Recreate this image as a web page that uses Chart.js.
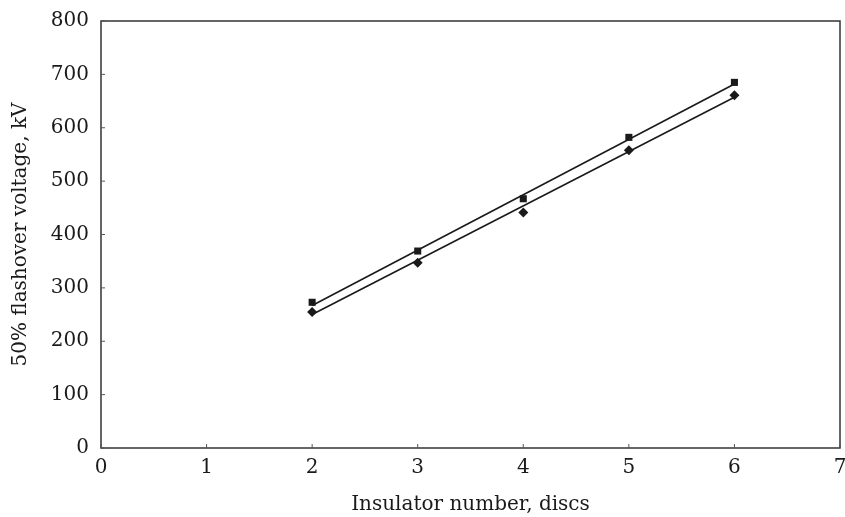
<!DOCTYPE html>
<html>
<head>
<meta charset="utf-8">
<script src="https://cdn.jsdelivr.net/npm/chart.js@4"></script>
<style>
html,body{margin:0;padding:0;background:#fff;}
#wrap{width:845px;height:517px;position:relative;}
</style>
</head>
<body>
<div id="wrap"><canvas id="c" width="845" height="517"></canvas></div>
<script>
const xCategories = [2, 3, 4, 5, 6];
const squareValues = [273, 369, 467, 582, 685];
const diamondValues = [255, 347, 441, 558, 661];
const lineX = [2, 6];
const squareLine = [267, 682];
const diamondLine = [250, 657];
const xTicks = [0, 1, 2, 3, 4, 5, 6, 7];
const yTicks = [0, 100, 200, 300, 400, 500, 600, 700, 800];
const xTitle = 'Insulator number, discs';
const yTitle = '50% flashover voltage, kV';

const pts = (xs, ys) => xs.map((x, i) => ({x: x, y: ys[i]}));
const FONT = {family: '"DejaVu Serif", "Liberation Serif", serif', size: 20};
const INK = '#1a1a1a';

const framePlugin = {
  id: 'frame',
  afterDraw(chart) {
    const {ctx, chartArea: a, scales} = chart;
    ctx.save();
    ctx.strokeStyle = '#333';
    ctx.lineWidth = 1.5;
    ctx.strokeRect(a.left, a.top, a.right - a.left, a.bottom - a.top);
    ctx.lineWidth = 1;
    ctx.strokeStyle = '#555';
    xTicks.forEach(v => {
      const px = scales.x.getPixelForValue(v);
      ctx.beginPath(); ctx.moveTo(px, a.bottom); ctx.lineTo(px, a.bottom - 4); ctx.stroke();
    });
    yTicks.forEach(v => {
      const py = scales.y.getPixelForValue(v);
      ctx.beginPath(); ctx.moveTo(a.left, py); ctx.lineTo(a.left + 4, py); ctx.stroke();
    });
    ctx.restore();
  }
};

new Chart(document.getElementById('c'), {
  type: 'scatter',
  data: {
    datasets: [
      {data: pts(lineX, squareLine), showLine: true, borderColor: INK, borderWidth: 1.6, pointRadius: 0, order: 2},
      {data: pts(lineX, diamondLine), showLine: true, borderColor: INK, borderWidth: 1.6, pointRadius: 0, order: 2},
      {data: pts(xCategories, squareValues), pointStyle: 'rect', pointRadius: 5, backgroundColor: INK, borderColor: INK, borderWidth: 0, order: 1},
      {data: pts(xCategories, diamondValues), pointStyle: 'rectRot', pointRadius: 5, backgroundColor: INK, borderColor: INK, borderWidth: 0, order: 1}
    ]
  },
  options: {
    responsive: false,
    animation: false,
    layout: {padding: {top: 21, right: 4, left: 0, bottom: 0}},
    plugins: {legend: {display: false}, tooltip: {enabled: false}},
    scales: {
      x: {
        type: 'linear', min: 0, max: 7,
        afterBuildTicks: s => { s.ticks = xTicks.map(v => ({value: v})); },
        afterFit: s => { s.height = 69; s.paddingLeft = 0; s.paddingRight = 0; },
        grid: {display: false, drawTicks: false},
        border: {display: false},
        ticks: {color: INK, font: FONT, padding: 8},
        title: {display: true, text: xTitle, color: INK, font: FONT, padding: {top: 10, bottom: 0}}
      },
      y: {
        type: 'linear', min: 0, max: 800,
        afterBuildTicks: s => { s.ticks = yTicks.map(v => ({value: v})); },
        afterFit: s => { s.width = 101; s.paddingTop = 0; s.paddingBottom = 0; },
        grid: {display: false, drawTicks: false},
        border: {display: false},
        ticks: {color: INK, font: FONT, padding: 12},
        title: {display: true, text: yTitle, color: INK, font: FONT, padding: {top: 9, bottom: 6}}
      }
    }
  },
  plugins: [framePlugin]
});
</script>
</body>
</html>
